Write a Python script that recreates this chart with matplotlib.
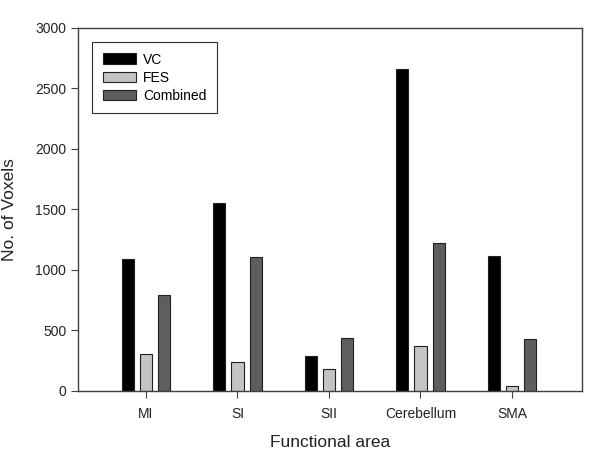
import numpy as np
import matplotlib
matplotlib.use("Agg")
import matplotlib.pyplot as plt

plt.rcParams['font.family'] = ['Liberation Sans', 'DejaVu Sans']

# data
areas = ['MI', 'SI', 'SII', 'Cerebellum', 'SMA']
vc = [1088, 1555, 283, 2660, 1115]
fes = [305, 240, 180, 372, 36]
combined = [790, 1108, 432, 1220, 428]

x = np.arange(len(areas))
w = 0.135

fig = plt.figure(figsize=(6, 4.55), dpi=100)
ax = fig.add_axes([0.13, 0.1413, 0.84, 0.7979])

ax.bar(x - 0.2, vc, w, color='black', edgecolor='#202020', linewidth=0.8, label='VC')
ax.bar(x, fes, w, color='#c4c4c4', edgecolor='#202020', linewidth=0.8, label='FES')
ax.bar(x + 0.2, combined, w, color='#5e5e5e', edgecolor='#202020', linewidth=0.8, label='Combined')

ax.set_xlim(-0.743, 4.765)
ax.set_ylim(0, 3000)
ax.set_yticks([0, 500, 1000, 1500, 2000, 2500, 3000])
ax.set_xticks(x)
ax.set_xticklabels(areas)
ax.tick_params(direction='out', length=5, width=0.8, colors='#404040', labelcolor='#222222', labelsize=10)
ax.tick_params(axis='x', pad=7)
for s in ax.spines.values():
    s.set_color('#404040')
    s.set_linewidth(1.0)

ax.set_xlabel('Functional area', fontsize=12.5, color='#222222', labelpad=10)
ax.set_ylabel('No. of Voxels', fontsize=12.5, color='#222222', labelpad=13)

leg = ax.legend(loc='upper left', bbox_to_anchor=(0.0284, 0.96), borderaxespad=0,
                fancybox=False, framealpha=1, edgecolor='#303030', fontsize=10,
                handlelength=2.4, handleheight=0.8, handletextpad=0.5,
                labelspacing=0.3, borderpad=0.75)
leg.get_frame().set_linewidth(0.8)

fig.savefig('out.png', dpi=100)
